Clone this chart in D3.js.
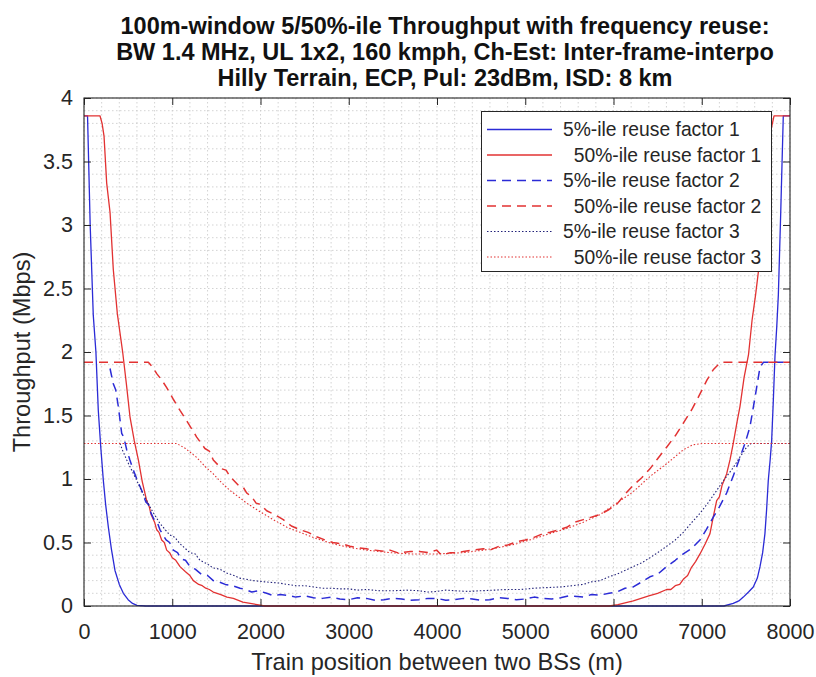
<!DOCTYPE html>
<html><head><meta charset="utf-8">
<script src="https://cdn.jsdelivr.net/npm/d3@7/dist/d3.min.js"></script>
<style>body{margin:0;background:#fff} svg{display:block;font-family:"Liberation Sans",Arial,Helvetica,sans-serif}</style>
</head><body><svg id="c" width="816" height="677"></svg>
<script>
// ---------- data ----------
const titleLines = [
  "100m-window 5/50%-ile Throughput with frequency reuse:",
  "BW 1.4 MHz, UL 1x2, 160 kmph, Ch-Est: Inter-frame-interpo",
  "Hilly Terrain, ECP, Pul: 23dBm, ISD: 8 km"
];
const xLabel = "Train position between two BSs (m)";
const yLabel = "Throughput (Mbps)";
const xTicks = [0,1000,2000,3000,4000,5000,6000,7000,8000];
const yTicks = [0,0.5,1,1.5,2,2.5,3,3.5,4];
const seriesNames = [
  "5%-ile reuse factor 1", "  50%-ile reuse factor 1",
  "5%-ile reuse factor 2", "  50%-ile reuse factor 2",
  "5%-ile reuse factor 3", "  50%-ile reuse factor 3"
];

// [position (m), throughput (Mbps)]
const p5_rf1 = [[0,3.86],[40,3.86],[70,3.0],[105,2.29],[135,2.0],[162,1.54],[190,1.25],[219,0.99],[245,0.80],[276,0.62],[310,0.45],[351,0.28],[400,0.17],[446,0.10],[500,0.05],[550,0.02],[600,0.005],[700,0],[7250,0],[7357,0.02],[7420,0.04],[7471,0.07],[7530,0.11],[7584,0.15],[7630,0.22],[7660,0.31],[7690,0.42],[7716,0.57],[7735,0.76],[7754,0.99],[7775,1.15],[7792,1.30],[7810,1.60],[7830,1.97],[7850,2.20],[7868,2.45],[7895,3.10],[7924,3.86],[8000,3.86]];

const p50_rf1 = [[0,3.86],[181,3.86],[205,3.80],[227,3.70],[257,3.33],[295,3.10],[332,2.65],[378,2.30],[438,2.00],[480,1.75],[521,1.49],[570,1.30],[616,1.15],[660,0.98],[710,0.83],[740,0.78],[760,0.72],[800,0.66],[824,0.60],[850,0.58],[880,0.52],[910,0.50],[937,0.44],[970,0.42],[1000,0.38],[1040,0.36],[1088,0.31],[1150,0.27],[1200,0.24],[1239,0.20],[1300,0.17],[1340,0.16],[1380,0.14],[1420,0.13],[1465,0.11],[1550,0.09],[1620,0.07],[1692,0.06],[1800,0.03],[1918,0.016],[2050,0],[5950,0],[6050,0.01],[6224,0.04],[6400,0.08],[6500,0.10],[6602,0.13],[6650,0.13],[6700,0.16],[6750,0.17],[6791,0.21],[6840,0.24],[6880,0.30],[6930,0.35],[6980,0.41],[7040,0.49],[7093,0.57],[7130,0.70],[7169,0.83],[7200,0.86],[7230,0.95],[7282,1.04],[7320,1.15],[7357,1.28],[7400,1.45],[7433,1.57],[7480,1.80],[7530,1.98],[7570,2.25],[7610,2.45],[7645,2.65],[7680,2.90],[7717,3.05],[7750,3.45],[7785,3.75],[7819,3.86],[8000,3.86]];

const p5_rf2 = [[295,1.87],[332,1.75],[360,1.70],[389,1.57],[427,1.36],[450,1.33],[484,1.23],[520,1.15],[559,1.07],[610,0.98],[654,0.91],[700,0.82],[730,0.80],[748,0.75],[800,0.67],[830,0.66],[861,0.60],[930,0.52],[970,0.50],[1012,0.44],[1060,0.42],[1100,0.37],[1150,0.36],[1201,0.31],[1260,0.29],[1330,0.25],[1400,0.24],[1465,0.20],[1530,0.19],[1600,0.17],[1680,0.16],[1768,0.14],[1830,0.13],[1900,0.11],[1980,0.12],[2070,0.10],[2150,0.08],[2221,0.09],[2300,0.085],[2400,0.07],[2500,0.08],[2600,0.065],[2700,0.06],[2800,0.07],[2900,0.055],[3000,0.05],[3100,0.065],[3200,0.06],[3300,0.045],[3400,0.05],[3500,0.06],[3600,0.055],[3700,0.045],[3800,0.05],[3900,0.06],[4000,0.06],[4100,0.045],[4200,0.05],[4300,0.06],[4400,0.055],[4500,0.045],[4600,0.05],[4700,0.065],[4800,0.06],[4900,0.05],[5000,0.055],[5100,0.07],[5200,0.06],[5300,0.055],[5400,0.065],[5500,0.08],[5658,0.07],[5750,0.09],[5847,0.086],[5950,0.10],[6036,0.11],[6130,0.14],[6224,0.15],[6320,0.19],[6413,0.23],[6500,0.25],[6602,0.31],[6700,0.36],[6791,0.41],[6880,0.45],[6980,0.52],[7050,0.60],[7131,0.70],[7200,0.78],[7282,0.89],[7360,1.03],[7433,1.17],[7490,1.28],[7546,1.41],[7603,1.64],[7660,1.88],[7700,1.92],[8000,1.92]];

const p50_rf2 = [[0,1.92],[729,1.92],[780,1.88],[824,1.83],[880,1.78],[937,1.72],[1010,1.63],[1088,1.54],[1180,1.44],[1277,1.33],[1370,1.24],[1420,1.22],[1465,1.15],[1560,1.08],[1610,1.07],[1654,1.02],[1750,0.95],[1800,0.94],[1843,0.89],[1900,0.86],[1950,0.81],[2000,0.80],[2070,0.75],[2160,0.72],[2258,0.68],[2350,0.63],[2450,0.60],[2540,0.58],[2636,0.545],[2730,0.52],[2820,0.50],[2920,0.49],[3014,0.47],[3100,0.46],[3200,0.45],[3300,0.44],[3400,0.43],[3467,0.44],[3550,0.42],[3600,0.42],[3700,0.43],[3800,0.43],[3900,0.42],[3996,0.44],[4050,0.40],[4150,0.42],[4220,0.42],[4300,0.43],[4400,0.44],[4525,0.45],[4600,0.44],[4700,0.47],[4800,0.48],[4903,0.505],[5000,0.52],[5100,0.54],[5200,0.57],[5280,0.58],[5380,0.60],[5470,0.62],[5560,0.66],[5658,0.68],[5750,0.70],[5847,0.72],[5950,0.76],[6036,0.80],[6130,0.88],[6224,0.95],[6320,1.01],[6413,1.08],[6500,1.16],[6602,1.25],[6700,1.34],[6791,1.44],[6890,1.55],[6980,1.67],[7060,1.78],[7130,1.86],[7200,1.91],[7245,1.92],[8000,1.92]];

const p5_rf3 = [[408,1.28],[440,1.22],[484,1.15],[540,1.07],[597,0.99],[650,0.91],[710,0.83],[780,0.74],[861,0.65],[970,0.56],[1030,0.54],[1088,0.49],[1200,0.42],[1260,0.41],[1314,0.36],[1400,0.33],[1460,0.30],[1540,0.29],[1617,0.26],[1700,0.24],[1760,0.22],[1840,0.21],[1918,0.20],[2050,0.19],[2221,0.18],[2300,0.17],[2400,0.16],[2500,0.16],[2600,0.15],[2700,0.14],[2800,0.14],[2900,0.135],[3000,0.135],[3100,0.125],[3200,0.13],[3350,0.12],[3500,0.12],[3650,0.125],[3800,0.12],[3900,0.11],[4000,0.115],[4100,0.125],[4200,0.12],[4350,0.115],[4500,0.12],[4650,0.125],[4800,0.13],[4950,0.13],[5100,0.14],[5250,0.145],[5400,0.15],[5530,0.16],[5658,0.17],[5750,0.19],[5847,0.20],[5950,0.23],[6036,0.25],[6130,0.28],[6224,0.31],[6320,0.34],[6413,0.38],[6500,0.42],[6602,0.47],[6700,0.52],[6791,0.58],[6890,0.66],[6980,0.73],[7080,0.82],[7169,0.91],[7260,1.00],[7357,1.09],[7430,1.17],[7508,1.25],[7560,1.28],[8000,1.28]];

const p50_rf3 = [[0,1.28],[1050,1.28],[1150,1.24],[1277,1.17],[1370,1.10],[1465,1.04],[1560,0.97],[1654,0.91],[1750,0.86],[1843,0.81],[2000,0.74],[2145,0.68],[2300,0.62],[2450,0.58],[2636,0.53],[2820,0.49],[3014,0.46],[3200,0.44],[3467,0.42],[3700,0.41],[4000,0.41],[4300,0.42],[4525,0.44],[4700,0.46],[4903,0.49],[5100,0.53],[5280,0.57],[5470,0.61],[5658,0.66],[5847,0.72],[6036,0.81],[6224,0.90],[6413,1.02],[6602,1.12],[6791,1.23],[6900,1.27],[7015,1.28],[8000,1.28]];

const seriesData = [p5_rf1, p50_rf1, p5_rf2, p50_rf2, p5_rf3, p50_rf3];

// ---------- styles ----------
const BLUE = "#2b2bd6", RED = "#e23232";
const styles = [
  {color: BLUE, dash: null, w: 1.3},
  {color: RED,  dash: null, w: 1.3},
  {color: BLUE, dash: "9,6", w: 1.5},
  {color: RED,  dash: "9,6", w: 1.5},
  {color: "#22227a", dash: "1.5,2", w: 1.1},
  {color: RED,  dash: "1.5,2", w: 1.1}
];

const L = 84, R = 790, T = 98, B = 606;
const svg = d3.select("#c");
const x = d3.scaleLinear().domain([0, 8000]).range([L, R]);
const y = d3.scaleLinear().domain([0, 4]).range([B, T]);
const axisColor = "#262626";

// grid
const gx = d3.range(0, 8001, 200), gy = d3.range(0, 4.001, 0.1);
const grid = svg.append("g");
grid.selectAll("line.vx").data(gx).enter().append("line")
  .attr("x1", d => x(d)).attr("x2", d => x(d)).attr("y1", T).attr("y2", B)
  .attr("stroke", "#c8c8c8").attr("stroke-width", 0.8).attr("stroke-dasharray", "1.5,2.5");
grid.selectAll("line.hy").data(gy).enter().append("line")
  .attr("y1", d => y(d)).attr("y2", d => y(d)).attr("x1", L).attr("x2", R)
  .attr("stroke", "#c8c8c8").attr("stroke-width", 0.8).attr("stroke-dasharray", "1.5,2.5");

// clip
svg.append("clipPath").attr("id", "clip").append("rect")
  .attr("x", L).attr("y", T - 2).attr("width", R - L).attr("height", B - T + 3);

const line = d3.line().x(d => x(d[0])).y(d => y(d[1]));
const plot = svg.append("g").attr("clip-path", "url(#clip)");
seriesData.forEach((s, i) => {
  plot.append("path").datum(s).attr("d", line)
    .attr("fill", "none").attr("stroke", styles[i].color)
    .attr("stroke-width", styles[i].w)
    .attr("stroke-dasharray", styles[i].dash)
    .attr("stroke-linejoin", "round");
});

// axes (ticks inside on all 4 sides)
const tickLen = 7;
const fontAxes = 21.5;
const xb = svg.append("g").attr("transform", `translate(0,${B})`)
  .call(d3.axisBottom(x).tickValues(xTicks).tickSize(-tickLen).tickPadding(18).tickFormat(d3.format("d")));
const xt = svg.append("g").attr("transform", `translate(0,${T})`)
  .call(d3.axisTop(x).tickValues(xTicks).tickSize(-tickLen).tickFormat(""));
const yl = svg.append("g").attr("transform", `translate(${L},0)`)
  .call(d3.axisLeft(y).tickValues(yTicks).tickSize(-tickLen).tickPadding(11).tickFormat(d => d3.format("")(d)));
const yr = svg.append("g").attr("transform", `translate(${R},0)`)
  .call(d3.axisRight(y).tickValues(yTicks).tickSize(-tickLen).tickFormat(""));
[xb, xt, yl, yr].forEach(g => {
  g.select(".domain").remove();
  g.selectAll(".tick line").attr("stroke", axisColor).attr("stroke-width", 1);
  g.selectAll(".tick text").attr("fill", axisColor)
    .style("font-size", fontAxes + "px").style("font-family", '"Liberation Sans", Arial, sans-serif');
});
svg.append("rect").attr("x", L).attr("y", T).attr("width", R - L).attr("height", B - T)
  .attr("fill", "none").attr("stroke", axisColor).attr("stroke-width", 1.1);

// title
svg.append("g").selectAll("text").data(titleLines).enter().append("text")
  .attr("x", 445).attr("y", (d, i) => 34 + i * 26)
  .attr("text-anchor", "middle").attr("font-weight", "bold")
  .attr("font-size", 23.5).attr("fill", "#111").text(d => d);

// axis labels
svg.append("text").attr("x", (L + R) / 2).attr("y", 670)
  .attr("text-anchor", "middle").attr("font-size", 23.6).attr("fill", axisColor).text(xLabel);
svg.append("text").attr("transform", `translate(30,${(T + B) / 2}) rotate(-90)`)
  .attr("text-anchor", "middle").attr("font-size", 23.6).attr("fill", axisColor).text(yLabel);

// legend
const lg = svg.append("g");
lg.append("rect").attr("x", 481.5).attr("y", 111.5).attr("width", 290).attr("height", 160)
  .attr("fill", "#fff").attr("stroke", axisColor).attr("stroke-width", 1);
const rowY = i => 129.5 + i * 25.5;
seriesNames.forEach((n, i) => {
  lg.append("line").attr("x1", 487).attr("x2", 552).attr("y1", rowY(i)).attr("y2", rowY(i))
    .attr("stroke", styles[i].color).attr("stroke-width", styles[i].w)
    .attr("stroke-dasharray", styles[i].dash);
  lg.append("text").attr("x", 563).attr("y", rowY(i)).attr("dy", "0.35em")
    .attr("font-size", 19.3).attr("fill", axisColor)
    .attr("xml:space", "preserve").style("white-space", "pre").text(n);
});
</script></body></html>
